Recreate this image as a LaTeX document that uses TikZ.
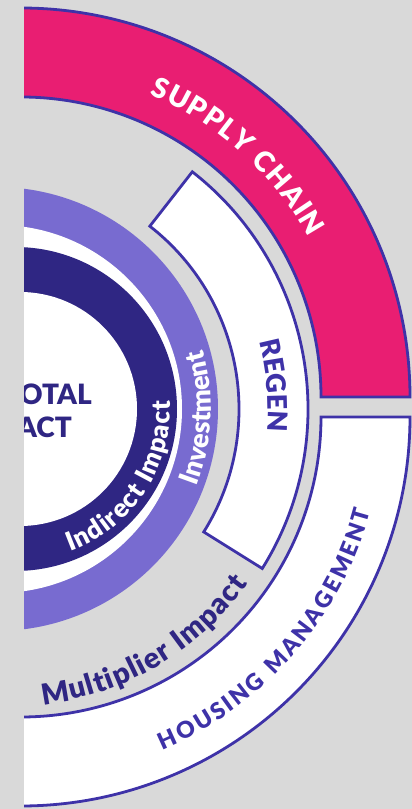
\documentclass[tikz,border=0pt]{standalone}
\usepackage{fontspec}
\setmainfont{Lato}
\newfontfamily\heavy{Lato Black}
\usetikzlibrary{decorations.text}
\definecolor{bgGray}{HTML}{D9D9D9}
\definecolor{chainPink}{HTML}{E91E72}
\definecolor{edgeBlue}{HTML}{3E32A8}
\definecolor{ringLilac}{HTML}{786BD0}
\definecolor{ringDark}{HTML}{2F2683}

\begin{document}
\begin{tikzpicture}[x=1pt,y=1pt,
    band/.style={draw=edgeBlue,line width=2.8pt},
    bandtext/.style={decorate,decoration={text along path,text align=fit to path,#1}}]
  \fill[bgGray] (0,0) rectangle (412,809);
  \coordinate (hub) at (18,400);
  \coordinate (supply) at (21,412);
  \coordinate (housing) at (21,392);
  \coordinate (regen) at (7,400);
  \begin{scope}
    \clip (24,0) rectangle (412,809);
    % rings round the middle
    \fill[ringLilac] (-4,400) circle (222);
    \fill[white] (-2,400) circle (184);
    \fill[ringDark] (15,400) circle (162);
    \fill[white] (20,400) circle (117);
    % outer bands
    \draw[band,fill=chainPink] (supply) ++(0:300) -- ++(0:89) arc (0:100:389)
      -- ++(100:-89) arc (100:0:300) -- cycle;
    \draw[band,fill=white] (housing) ++(0:300) -- ++(0:89) arc (0:-100:389)
      -- ++(-100:-89) arc (-100:0:300) -- cycle;
    \draw[band,fill=white] (regen) ++(-32:232) -- ++(-32:69) arc (-32:52:301)
      -- ++(52:-69) arc (52:-32:232) -- cycle;
    \node[anchor=base east,inner sep=0,text=ringDark,font=\heavy\fontsize{28}{28}\selectfont] (total) at (92,404) {TOTAL};
    \node[anchor=base east,inner sep=0,text=ringDark,font=\heavy\fontsize{28}{28}\selectfont] (impact) at (72,371) {IMPACT};
    \path[bandtext={text color=white,text={|\heavy\fontsize{28}{28}\selectfont|SUPPLY CHAIN}}]
      ([shift={(67:329)}]supply) arc (67:29:329);
    \path[bandtext={text color=edgeBlue,text={|\heavy\fontsize{27}{27}\selectfont|REGEN}}]
      ([shift={(15:261)}]regen) arc (15:-5:261);
    \path[bandtext={text color=white,text={|\heavy\fontsize{27}{27}\selectfont|Investment}}]
      ([shift={(-21:215)}]-4,400) arc (-21:15:215);
    \path[bandtext={text color=white,text={|\heavy\fontsize{26}{26}\selectfont|Indirect Impact}}]
      ([shift={(-70:152)}]hub) arc (-70:3:152);
    \path[bandtext={text color=ringDark,text={|\heavy\fontsize{29}{29}\selectfont|Multiplier Impact}}]
      ([shift={(-83:298)}]regen) arc (-83:-36:298);
    \path[bandtext={text color=edgeBlue,text={|\heavy\fontsize{23}{23}\selectfont|HOUSING MANAGEMENT}}]
      ([shift={(-67:362)}]housing) arc (-67:-15:362);
  \end{scope}
\end{tikzpicture}
\end{document}
